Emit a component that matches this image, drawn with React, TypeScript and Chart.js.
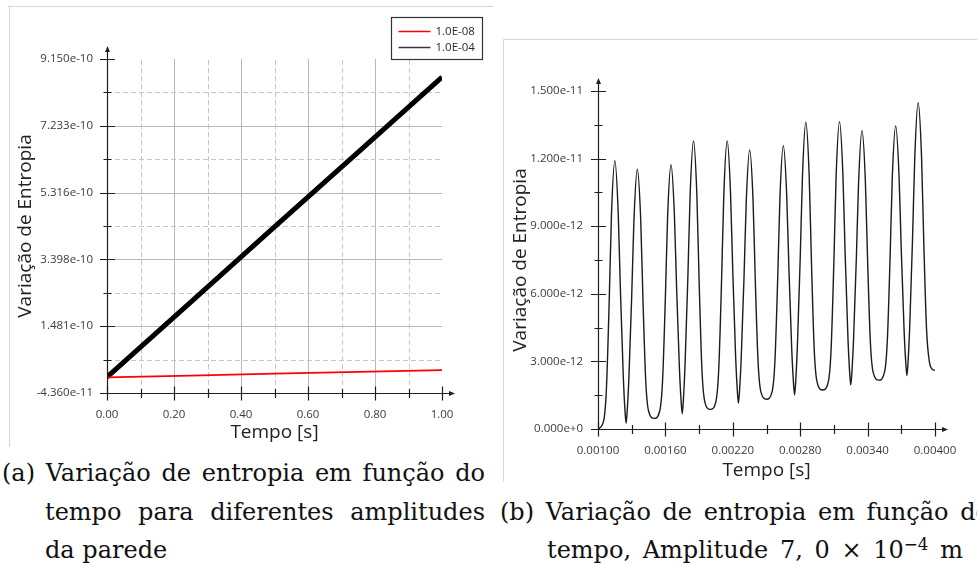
import React, { useEffect, useRef } from 'react';
import { Chart, registerables } from 'chart.js';

Chart.register(...registerables);

// ---------- (a) Variação de entropia para duas amplitudes da parede ----------
const tempoA = [0, 0.25, 0.5, 0.75, 1.0];
const entropiaAmp1e08 = [0.1e-11, 0.65e-11, 1.2e-11, 1.7e-11, 2.2e-11];
const entropiaAmp1e04 = [0.2e-11, 2.17e-10, 4.33e-10, 6.48e-10, 8.63e-10];
const rotulosSeriesA = ['1.0E-08', '1.0E-04'];
const rotulosYA = ['-4.360e-11', '1.481e-10', '3.398e-10', '5.316e-10', '7.233e-10', '9.150e-10'];
const rotulosXA = ['0.00', '0.20', '0.40', '0.60', '0.80', '1.00'];

// ---------- (b) Variação de entropia, amplitude 7,0e-4 m ----------
const tempoB = [
  0.001000, 0.001050, 0.001075, 0.001100, 0.001120, 0.001150, 0.001180, 0.001200, 0.001225, 0.001240,
  0.001250, 0.001260, 0.001275, 0.001300, 0.001320, 0.001350, 0.001380, 0.001400, 0.001425, 0.001450,
  0.001500, 0.001550, 0.001575, 0.001600, 0.001620, 0.001650, 0.001680, 0.001700, 0.001725, 0.001740,
  0.001750, 0.001760, 0.001775, 0.001800, 0.001820, 0.001850, 0.001880, 0.001900, 0.001925, 0.001950,
  0.002000, 0.002050, 0.002075, 0.002100, 0.002120, 0.002150, 0.002180, 0.002200, 0.002225, 0.002240,
  0.002250, 0.002260, 0.002275, 0.002300, 0.002320, 0.002350, 0.002380, 0.002400, 0.002425, 0.002450,
  0.002500, 0.002550, 0.002575, 0.002600, 0.002620, 0.002650, 0.002680, 0.002700, 0.002725, 0.002740,
  0.002750, 0.002760, 0.002775, 0.002800, 0.002820, 0.002850, 0.002880, 0.002900, 0.002925, 0.002950,
  0.003000, 0.003050, 0.003075, 0.003100, 0.003120, 0.003150, 0.003180, 0.003200, 0.003225, 0.003240,
  0.003250, 0.003260, 0.003275, 0.003300, 0.003320, 0.003350, 0.003380, 0.003400, 0.003425, 0.003450,
  0.003500, 0.003550, 0.003575, 0.003600, 0.003620, 0.003650, 0.003680, 0.003700, 0.003725, 0.003740,
  0.003750, 0.003760, 0.003775, 0.003800, 0.003820, 0.003850, 0.003880, 0.003900, 0.003925, 0.003950,
  0.003970, 0.004000,
];
// valores em unidades de 1e-12
const entropiaB_e12 = [
  0.00, 0.36, 1.79, 5.72, 9.53, 11.91, 9.58, 6.08, 2.35, 0.83,
  0.25, 0.81, 2.28, 5.89, 9.27, 11.53, 9.32, 5.78, 2.13, 0.80,
  0.47, 0.81, 2.16, 5.87, 9.48, 11.73, 9.52, 6.21, 2.67, 1.23,
  0.68, 1.29, 2.86, 6.73, 10.36, 12.78, 10.40, 6.59, 2.66, 1.23,
  0.87, 1.23, 2.66, 6.59, 10.40, 12.78, 10.45, 6.96, 3.24, 1.72,
  1.14, 1.70, 3.16, 6.76, 10.13, 12.38, 10.17, 6.63, 2.98, 1.65,
  1.32, 1.66, 3.01, 6.72, 10.32, 12.57, 10.36, 7.04, 3.50, 2.06,
  1.51, 2.12, 3.69, 7.56, 11.19, 13.61, 11.23, 7.43, 3.51, 2.09,
  1.73, 2.09, 3.52, 7.45, 11.26, 13.64, 11.30, 7.80, 4.05, 2.53,
  1.95, 2.51, 3.98, 7.60, 10.98, 13.24, 11.03, 7.48, 3.83, 2.50,
  2.17, 2.51, 3.86, 7.58, 11.19, 13.45, 11.23, 7.91, 4.36, 2.92,
  2.37, 2.98, 4.55, 8.43, 12.06, 14.48, 12.11, 8.31, 4.40, 2.98,
  2.68, 2.60,
];
const ESCALA_B = 1e-12;
const rotulosYB = ['0.000e+0', '3.000e-12', '6.000e-12', '9.000e-12', '1.200e-11', '1.500e-11'];
const rotulosXB = ['0.00100', '0.00160', '0.00220', '0.00280', '0.00340', '0.00400'];

const FONTE = 'Open Sans';

// major ticks from the labels, with a minor tick halfway between each pair
function ticksComMenores(rotulos: string[]) {
  const maiores = rotulos.map(Number);
  const out: number[] = [];
  maiores.forEach((v, i) => {
    out.push(v);
    if (i < maiores.length - 1) out.push((v + maiores[i + 1]) / 2);
  });
  return out;
}

// grid (solid on majors, dashed on minors), axes with arrows and crossing tick marks
const eixos = {
  id: 'eixos',
  beforeDatasetsDraw(chart: any, _a: any, opts: any) {
    if (!opts || !opts.grade) return;
    const { ctx, chartArea: a, scales } = chart;
    const x = scales.x, y = scales.y;
    ctx.save();
    ctx.lineWidth = 1;
    x.ticks.forEach((t: any, i: number) => {
      if (i === 0 || i === x.ticks.length - 1) return;
      const px = Math.round(x.getPixelForValue(t.value)) + 0.5;
      const maior = i % 2 === 0;
      ctx.strokeStyle = maior ? '#b8b8b8' : '#c6c6c6';
      ctx.setLineDash(maior ? [] : [5, 3]);
      ctx.beginPath(); ctx.moveTo(px, a.bottom); ctx.lineTo(px, a.top); ctx.stroke();
    });
    y.ticks.forEach((t: any, i: number) => {
      if (i === 0 || i === y.ticks.length - 1) return;
      const py = Math.round(y.getPixelForValue(t.value)) + 0.5;
      const maior = i % 2 === 0;
      ctx.strokeStyle = maior ? '#b8b8b8' : '#c6c6c6';
      ctx.setLineDash(maior ? [] : [5, 3]);
      ctx.beginPath(); ctx.moveTo(a.left, py); ctx.lineTo(a.right, py); ctx.stroke();
    });
    ctx.restore();
  },
  afterDatasetsDraw(chart: any) {
    const { ctx, chartArea: a, scales } = chart;
    const x = scales.x, y = scales.y;
    const x0 = Math.round(a.left) + 0.5;
    const y0 = Math.round(a.bottom) + 0.5;
    ctx.save();
    ctx.strokeStyle = '#1e1e1e';
    ctx.fillStyle = '#1e1e1e';
    ctx.lineWidth = 1.2;
    ctx.beginPath();
    ctx.moveTo(x0, y0); ctx.lineTo(x0, a.top - 9);
    ctx.moveTo(x0, y0); ctx.lineTo(a.right + 9, y0);
    ctx.stroke();
    // arrow heads
    ctx.beginPath();
    ctx.moveTo(x0, a.top - 13); ctx.lineTo(x0 - 2.5, a.top - 7); ctx.lineTo(x0 + 2.5, a.top - 7); ctx.closePath();
    ctx.moveTo(a.right + 13, y0); ctx.lineTo(a.right + 7, y0 - 2.5); ctx.lineTo(a.right + 7, y0 + 2.5); ctx.closePath();
    ctx.fill();
    // tick marks crossing the axes
    ctx.beginPath();
    y.ticks.forEach((t: any, i: number) => {
      const py = Math.round(y.getPixelForValue(t.value)) + 0.5;
      const h = i % 2 === 0 ? 7.5 : 4;
      ctx.moveTo(x0 - h, py); ctx.lineTo(x0 + h, py);
    });
    x.ticks.forEach((t: any, i: number) => {
      const px = Math.round(x.getPixelForValue(t.value)) + 0.5;
      const h = i % 2 === 0 ? 7 : 4.5;
      ctx.moveTo(px, y0 - h); ctx.lineTo(px, y0 + h);
    });
    ctx.stroke();
    ctx.restore();
  },
};

// boxed legend at the upper right of chart (a)
const legendaCaixa = {
  id: 'legendaCaixa',
  afterDraw(chart: any) {
    const { ctx, chartArea: a } = chart;
    const bx = Math.round(a.right) - 51 + 0.5;
    const by = Math.round(a.top) - 42 + 0.5;
    ctx.save();
    ctx.fillStyle = '#ffffff';
    ctx.fillRect(bx, by, 91, 42);
    ctx.strokeStyle = '#333';
    ctx.lineWidth = 1.2;
    ctx.strokeRect(bx, by, 91, 42);
    ctx.font = `11.5px "${FONTE}"`;
    ctx.textBaseline = 'middle';
    chart.data.datasets.forEach((ds: any, i: number) => {
      const yy = by + 14 + i * 16;
      ctx.strokeStyle = ds.legendColor;
      ctx.lineWidth = 1.5;
      ctx.beginPath(); ctx.moveTo(bx + 7, yy); ctx.lineTo(bx + 39, yy); ctx.stroke();
      ctx.fillStyle = '#2a2a2a';
      ctx.fillText(ds.label, bx + 44, yy + 0.5);
    });
    ctx.restore();
  },
};

function escalas(opts: {
  xTicks: number[]; xRot: string[]; yTicks: number[]; yRot: string[];
  yLargura: number; xAltura: number; yPad: number; yTituloPad: number; xTituloPad: number;
}) {
  const tickFonte = { family: FONTE, size: 11.5 };
  const tituloFonte = { family: FONTE, size: 19 };
  return {
    x: {
      type: 'linear',
      min: opts.xTicks[0],
      max: opts.xTicks[opts.xTicks.length - 1],
      afterBuildTicks: (s: any) => { s.ticks = opts.xTicks.map((v) => ({ value: v })); },
      afterFit: (s: any) => { s.height = opts.xAltura; },
      grid: { display: false, drawTicks: false },
      border: { display: false },
      ticks: {
        autoSkip: false, maxRotation: 0, padding: 15, color: '#3a3a3a', font: tickFonte,
        callback: (_v: any, i: number) => (i % 2 === 0 ? opts.xRot[i / 2] : ''),
      },
      title: { display: true, text: 'Tempo [s]', color: '#222', font: tituloFonte, padding: { top: 0, bottom: opts.xTituloPad } },
    },
    y: {
      type: 'linear',
      min: opts.yTicks[0],
      max: opts.yTicks[opts.yTicks.length - 1],
      afterBuildTicks: (s: any) => { s.ticks = opts.yTicks.map((v) => ({ value: v })); },
      afterFit: (s: any) => { s.width = opts.yLargura; },
      grid: { display: false, drawTicks: false },
      border: { display: false },
      ticks: {
        autoSkip: false, padding: opts.yPad, color: '#3a3a3a', font: tickFonte,
        callback: (_v: any, i: number) => (i % 2 === 0 ? opts.yRot[i / 2] : ''),
      },
      title: { display: true, text: 'Variação de Entropia', color: '#222', font: tituloFonte, padding: { top: opts.yTituloPad, bottom: 0 } },
    },
  };
}

function configA() {
  return {
    type: 'line',
    data: {
      datasets: [
        {
          label: rotulosSeriesA[0],
          data: tempoA.map((t, i) => ({ x: t, y: entropiaAmp1e08[i] })),
          borderColor: '#ff0000', legendColor: '#ff0000', borderWidth: 1.8, pointRadius: 0,
        },
        {
          label: rotulosSeriesA[1],
          data: tempoA.map((t, i) => ({ x: t, y: entropiaAmp1e04[i] })),
          borderColor: '#000000', legendColor: '#3a3a3a', borderWidth: 5, pointRadius: 0,
        },
      ],
    },
    options: {
      animation: false, responsive: false, devicePixelRatio: 1,
      layout: { padding: { left: 10, top: 59, right: 53, bottom: 4 } },
      plugins: { legend: { display: false }, tooltip: { enabled: false }, eixos: { grade: true } },
      scales: escalas({
        xTicks: ticksComMenores(rotulosXA), xRot: rotulosXA,
        yTicks: ticksComMenores(rotulosYA), yRot: rotulosYA,
        yLargura: 97, xAltura: 53, yPad: 14, yTituloPad: 4, xTituloPad: 2,
      }),
    },
    plugins: [eixos, legendaCaixa],
  };
}

function configB() {
  return {
    type: 'line',
    data: {
      datasets: [
        {
          label: 'Variação de Entropia',
          data: tempoB.map((t, i) => ({ x: t, y: entropiaB_e12[i] * ESCALA_B })),
          borderColor: '#1c1c1c', borderWidth: 1.4, pointRadius: 0,
          cubicInterpolationMode: 'monotone',
        },
      ],
    },
    options: {
      animation: false, responsive: false, devicePixelRatio: 1,
      layout: { padding: { left: 6, top: 61, right: 42, bottom: 3 } },
      plugins: { legend: { display: false }, tooltip: { enabled: false }, eixos: { grade: false } },
      scales: escalas({
        xTicks: ticksComMenores(rotulosXB), xRot: rotulosXB,
        yTicks: ticksComMenores(rotulosYB), yRot: rotulosYB,
        yLargura: 92, xAltura: 53, yPad: 15, yTituloPad: 3, xTituloPad: 0,
      }),
    },
    plugins: [eixos],
  };
}

function Grafico(props: { config: () => any; left: number; top: number; width: number; height: number }) {
  const ref = useRef<HTMLCanvasElement>(null);
  useEffect(() => {
    const chart = new Chart(ref.current as HTMLCanvasElement, props.config());
    return () => chart.destroy();
  }, []);
  return (
    <canvas
      ref={ref}
      width={props.width}
      height={props.height}
      style={{ position: 'absolute', left: props.left, top: props.top, width: props.width, height: props.height }}
    />
  );
}

const serif: React.CSSProperties = {
  position: 'absolute',
  fontFamily: '"DejaVu Serif", serif',
  fontSize: 24,
  lineHeight: 1,
  color: '#111',
};

function Linha(props: { left: number; baseline: number; width?: number; justify?: boolean; children: React.ReactNode }) {
  return (
    <div
      style={{
        ...serif,
        left: props.left,
        top: props.baseline - 20,
        width: props.width,
        whiteSpace: props.justify ? 'normal' : 'nowrap',
        textAlign: props.justify ? 'justify' : 'left',
        textAlignLast: props.justify ? 'justify' : 'auto',
      }}
    >
      {props.children}
    </div>
  );
}

export default function App() {
  return (
    <div style={{ position: 'absolute', left: 0, top: 0, width: 977, height: 567, background: '#fff', overflow: 'hidden' }}>
      {/* panel frames */}
      <div style={{ position: 'absolute', left: 8, top: 6, width: 485, height: 1, background: '#d6d6d6' }} />
      <div style={{ position: 'absolute', left: 9, top: 6, width: 1, height: 441, background: '#d6d6d6' }} />
      <div style={{ position: 'absolute', left: 503, top: 39, width: 474, height: 1, background: '#d6d6d6' }} />
      <div style={{ position: 'absolute', left: 503, top: 39, width: 1, height: 443, background: '#d6d6d6' }} />

      <Grafico config={configA} left={0} top={0} width={495} height={450} />
      <Grafico config={configB} left={500} top={30} width={477} height={455} />

      <Linha left={2} baseline={481} width={483} justify>(a) Variação de entropia em função do</Linha>
      <Linha left={45} baseline={520} width={440} justify>tempo para diferentes amplitudes</Linha>
      <Linha left={45} baseline={558}>da parede</Linha>

      <Linha left={500} baseline={520} width={490} justify>(b) Variação de entropia em função do</Linha>
      <Linha left={547} baseline={558} width={416} justify>
        tempo, Amplitude 7, 0 × 10<span style={{ position: 'relative', top: '-0.5em', fontSize: '0.7em' }}>−4</span> m
      </Linha>
    </div>
  );
}
